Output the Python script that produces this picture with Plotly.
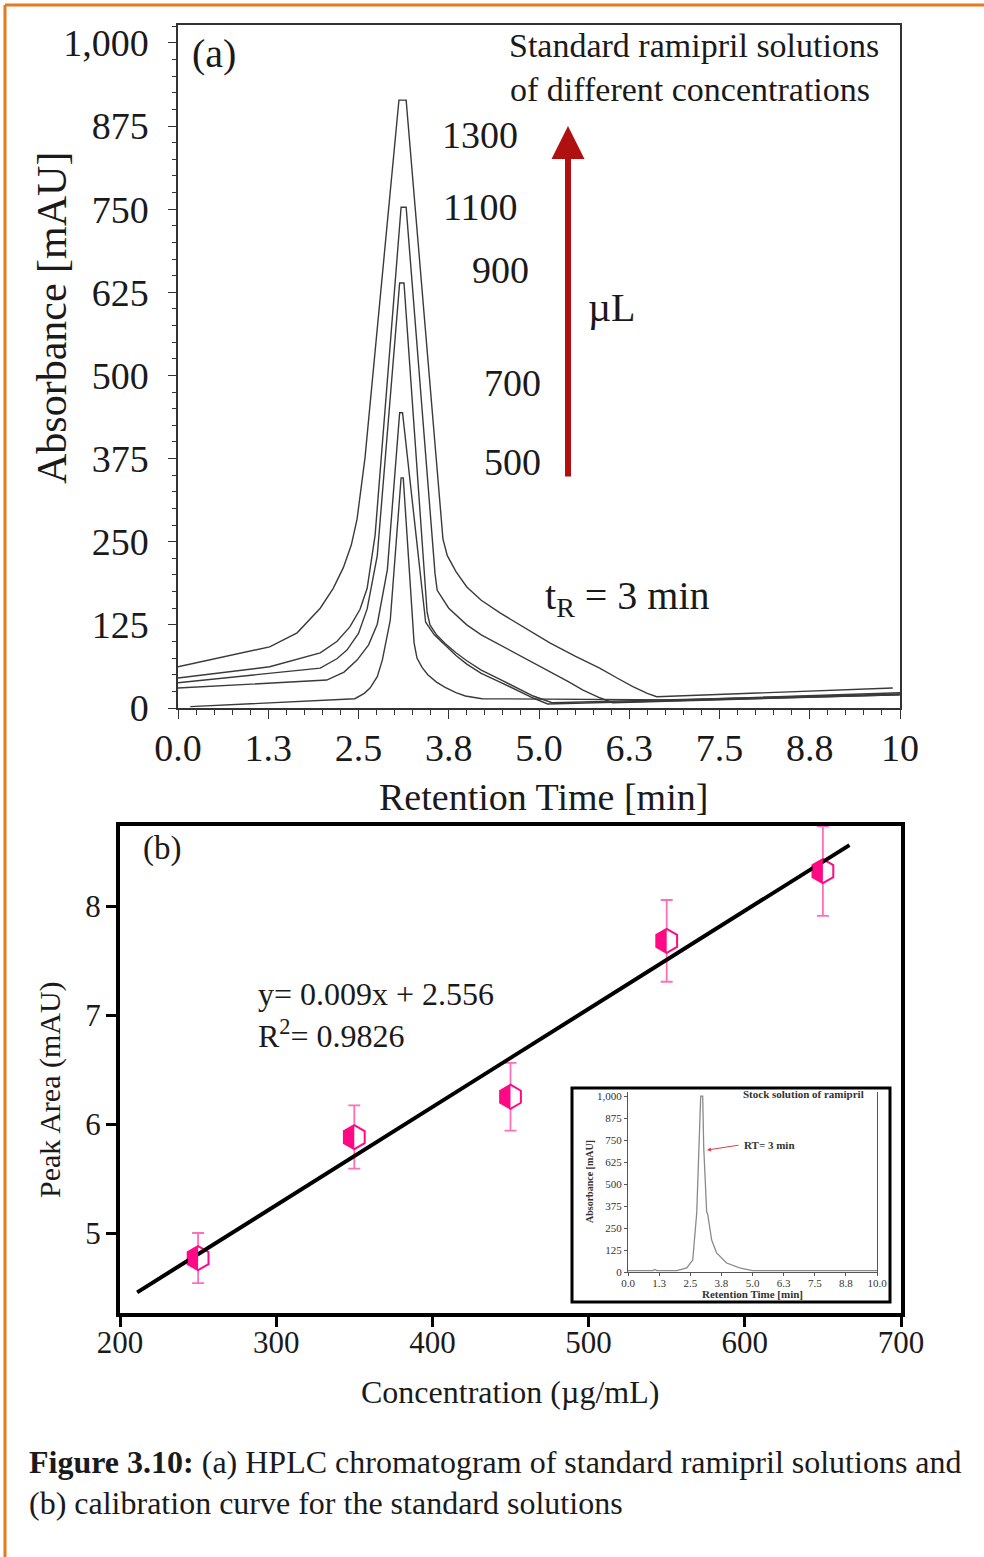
import plotly.graph_objects as go

W, H = 984, 1557
SERIF = "Liberation Serif"
INK = "#1a1a1a"

# ---- (a) chromatograms: retention time (min) vs absorbance (mAU) per injected volume (µL)
t_1300 = [0.0, 0.90, 1.27, 1.65, 1.97, 2.15, 2.29, 2.40, 2.48, 2.59, 3.06, 3.16, 3.67, 3.73,
          3.85, 4.00, 4.20, 4.46, 4.80, 5.15, 5.50, 5.84, 6.10, 6.30, 6.50, 6.63, 9.90]
a_1300 = [62, 83, 92, 113, 150, 180, 211, 245, 284, 376, 914, 914, 254, 229,
          205, 182, 162, 143, 121, 98, 78, 60, 44, 32, 22, 17, 30]

t_1100 = [0.0, 1.27, 1.97, 2.20, 2.38, 2.52, 2.62, 2.73, 3.09, 3.16, 3.56, 3.59, 3.75, 4.00,
          4.20, 4.46, 4.80, 5.15, 5.40, 5.61, 5.85, 6.02, 9.99]
a_1100 = [45, 62, 83, 100, 122, 148, 180, 260, 753, 753, 202, 177, 150, 125,
          110, 95, 75, 55, 40, 27, 15, 8, 20]

t_900 = [0.0, 1.97, 2.20, 2.34, 2.50, 2.62, 2.76, 3.07, 3.13, 3.45, 3.49, 3.58, 3.70, 3.85,
         4.00, 4.20, 4.46, 4.70, 4.92, 5.18, 10.0]
a_900 = [38, 60, 74, 87, 112, 149, 229, 639, 639, 144, 125, 110, 97, 83,
         71, 57, 43, 30, 18, 8, 21]

t_700 = [0.0, 2.06, 2.30, 2.48, 2.64, 2.76, 2.90, 3.07, 3.11, 3.40, 3.43, 3.55, 3.70, 3.85,
         4.00, 4.20, 4.46, 4.70, 4.92, 5.12, 10.0]
a_700 = [30, 42, 54, 72, 95, 126, 208, 444, 444, 156, 129, 110, 95, 79,
         66, 52, 39, 26, 15, 6, 20]

t_500 = [0.17, 2.45, 2.58, 2.66, 2.76, 2.83, 2.94, 3.09, 3.12, 3.27, 3.31, 3.38, 3.46, 3.58,
         3.70, 3.85, 3.98, 4.21, 6.95, 10.0]
a_500 = [2, 14, 22, 30, 47, 72, 132, 346, 346, 98, 75, 61, 50, 39,
         31, 23, 18, 14, 12, 23]

volume_labels = ["1300", "1100", "900", "700", "500"]

time_ticks = [0, 1.25, 2.5, 3.75, 5, 6.25, 7.5, 8.75, 10]
time_ticktext = ["0.0", "1.3", "2.5", "3.8", "5.0", "6.3", "7.5", "8.8", "10"]
abs_ticks = [0, 125, 250, 375, 500, 625, 750, 875, 1000]
abs_ticktext = ["0", "125", "250", "375", "500", "625", "750", "875", "1,000"]

# ---- (b) calibration: concentration (µg/mL) vs peak area (mAU)
conc = [250, 350, 450, 550, 650]
peak_area = [4.77, 5.88, 6.25, 7.68, 8.32]
area_err = [0.23, 0.29, 0.31, 0.375, 0.41]
slope, intercept, r_squared = 0.009, 2.556, 0.9826
fit_span = [211, 667]

# ---- inset: stock solution chromatogram
t_stock = [0.0, 1.0, 1.08, 1.16, 1.96, 2.36, 2.60, 2.76, 2.92, 3.00, 3.04, 3.16, 3.20, 3.36,
           3.56, 3.96, 4.48, 5.0, 10.0]
a_stock = [8, 8, 14, 8, 8, 23, 68, 335, 1000, 1000, 710, 341, 330, 182,
           108, 51, 23, 8, 8]
stock_ticktext = ["0.0", "1.3", "2.5", "3.8", "5.0", "6.3", "7.5", "8.8", "10.0"]


def px(x):
    return x / W


def py(y):
    return 1 - y / H


fig = go.Figure()

for t, a, name in zip([t_1300, t_1100, t_900, t_700, t_500],
                      [a_1300, a_1100, a_900, a_700, a_500], volume_labels):
    fig.add_trace(go.Scatter(x=t, y=a, mode="lines", name=name + " µL",
                             line=dict(color="#3a3a3a", width=1.4),
                             xaxis="x", yaxis="y", showlegend=False))

# calibration points with error bars (white interior, left half filled via shapes)
MAG = "#ff0a84"
fig.add_trace(go.Scatter(
    x=conc, y=peak_area, mode="markers", xaxis="x2", yaxis="y2", showlegend=False,
    marker=dict(symbol="hexagon", size=24, color="white", line=dict(color=MAG, width=2)),
    error_y=dict(type="data", array=area_err, visible=True, color="#ff6fb5",
                 thickness=1.8, width=6)))

fit_y = [slope * x + intercept for x in fit_span]
fig.add_trace(go.Scatter(x=fit_span, y=fit_y, mode="lines", xaxis="x2", yaxis="y2",
                         line=dict(color="black", width=4), showlegend=False))

fig.add_trace(go.Scatter(x=t_stock, y=a_stock, mode="lines", xaxis="x3", yaxis="y3",
                         line=dict(color="#8a8a8a", width=1.3), showlegend=False))

shapes = []
# left half of each hexagon marker, anchored on its data point
for xv, yv in zip(conc, peak_area):
    shapes.append(dict(type="path", xref="x2", yref="y2", xsizemode="pixel", ysizemode="pixel",
                       xanchor=xv, yanchor=yv, path="M0,12 L-10.4,6 L-10.4,-6 L0,-12 Z",
                       fillcolor=MAG, line=dict(width=0), layer="above"))

ORANGE = "#e8781c"
shapes += [
    dict(type="line", xref="paper", yref="paper", x0=px(5), x1=1, y0=py(5), y1=py(5),
         line=dict(color=ORANGE, width=3)),
    dict(type="line", xref="paper", yref="paper", x0=px(5), x1=px(5), y0=py(5), y1=0,
         line=dict(color=ORANGE, width=3)),
    # inset frame
    dict(type="rect", xref="paper", yref="paper", x0=px(572), x1=px(890), y0=py(1302), y1=py(1088),
         line=dict(color="black", width=3), fillcolor="rgba(0,0,0,0)"),
]

ann = []


def text(x, y, s, size, xanchor="center", yanchor="middle", angle=0, color=INK, family=SERIF):
    ann.append(dict(x=px(x), y=py(y), xref="paper", yref="paper", text=s, showarrow=False,
                    xanchor=xanchor, yanchor=yanchor, textangle=angle,
                    font=dict(family=family, size=size, color=color)))


# (a) texts
text(543, 797, "Retention Time [min]", 38)
text(52, 318, "Absorbance [mAU]", 42, angle=-90)
text(214, 53, "(a)", 40)
text(694, 45, "Standard ramipril solutions", 34)
text(690, 90, "of different concentrations", 34)
text(480, 135, "1300", 38)
text(480, 207, "1100", 38)
text(500, 270, "900", 38)
text(512, 383, "700", 38)
text(512, 462, "500", 38)
text(611, 308, "µL", 40)
text(627, 598, "t<sub>R</sub> = 3 min", 40)

ann.append(dict(x=px(568), y=py(126), xref="paper", yref="paper", text="", showarrow=True,
                ax=0, ay=352, axref="pixel", ayref="pixel", arrowhead=2, arrowsize=1.1,
                arrowwidth=6, arrowcolor="#b01010", standoff=0))

# (b) texts
text(510, 1392, "Concentration (µg/mL)", 32)
text(50, 1090, "Peak Area (mAU)", 30, angle=-90)
text(162, 848, "(b)", 33)
text(256, 994, "y= 0.009x + 2.556", 32, xanchor="left")
text(256, 1034, "R<sup>2</sup>= 0.9826", 32, xanchor="left")

# inset texts
text(803, 1094, "<b>Stock solution of ramipril</b>", 11, color="#333")
text(742, 1145, "<b>RT= 3 min</b>", 11, xanchor="left", color="#333")
text(752, 1294, "<b>Retention Time [min]</b>", 11, color="#333")
text(589, 1182, "<b>Absorbance [mAU]</b>", 10, angle=-90, color="#333")
ann.append(dict(x=px(707), y=py(1150), xref="paper", yref="paper", text="", showarrow=True,
                ax=33, ay=-5, arrowhead=2, arrowsize=0.8, arrowwidth=1, arrowcolor="#e04040",
                standoff=0))

# caption
text(27, 1462, "<b>Figure 3.10:</b> (a) HPLC chromatogram of standard ramipril solutions and", 32,
     xanchor="left")
text(27, 1503, "(b) calibration curve for the standard solutions", 32, xanchor="left")

axis_a = dict(showgrid=False, zeroline=False, mirror=True, linecolor="#333", linewidth=1.5,
              ticks="outside", tickcolor="#333", tickwidth=1.3, automargin=False,
              tickfont=dict(family=SERIF, size=38, color=INK))

fig.update_layout(
    width=W, height=H, autosize=False,
    margin=dict(l=0, r=0, t=0, b=0, pad=0),
    paper_bgcolor="white", plot_bgcolor="white",
    xaxis=dict(axis_a, domain=[px(178), px(900)], range=[0, 10], anchor="y",
               tickmode="array", tickvals=time_ticks, ticktext=time_ticktext, ticklen=9,
               ticklabelstandoff=-3,
               minor=dict(tickmode="linear", tick0=0, dtick=0.25, ticks="outside", ticklen=5,
                          tickcolor="#333")),
    yaxis=dict(axis_a, domain=[py(708), py(25)], range=[0, 1027], anchor="x",
               tickmode="array", tickvals=abs_ticks, ticktext=abs_ticktext, ticklen=8,
               ticklabelstandoff=12,
               minor=dict(tickmode="linear", tick0=0, dtick=25, ticks="outside", ticklen=4,
                          tickcolor="#333")),
    xaxis2=dict(domain=[px(120), px(901)], range=[200, 700], anchor="y2", automargin=False,
                showgrid=False, zeroline=False, mirror=True, linecolor="black", linewidth=4,
                ticks="outside", ticklen=10, tickwidth=3, tickcolor="black",
                tickmode="linear", tick0=200, dtick=100, ticklabelstandoff=-11,
                tickfont=dict(family=SERIF, size=31, color=INK)),
    yaxis2=dict(domain=[py(1313), py(826)], range=[4.266, 8.734], anchor="x2", automargin=False,
                showgrid=False, zeroline=False, mirror=True, linecolor="black", linewidth=4,
                ticks="outside", ticklen=10, tickwidth=3, tickcolor="black",
                tickmode="array", tickvals=[5, 6, 7, 8], ticklabelstandoff=-1,
                tickfont=dict(family=SERIF, size=31, color=INK)),
    xaxis3=dict(domain=[px(628), px(877)], range=[0, 10], anchor="y3", automargin=False,
                showgrid=False, zeroline=False, linecolor="#555", linewidth=1, mirror=False,
                ticks="outside", ticklen=3, tickcolor="#555",
                tickmode="array", tickvals=time_ticks, ticktext=stock_ticktext,
                ticklabelstandoff=-2,
                tickfont=dict(family=SERIF, size=11, color="#333")),
    yaxis3=dict(domain=[py(1272), py(1092)], range=[0, 1023], anchor="x3", automargin=False,
                showgrid=False, zeroline=False, linecolor="#555", linewidth=1, mirror=True,
                ticks="outside", ticklen=3, tickcolor="#555",
                tickmode="array", tickvals=abs_ticks, ticktext=abs_ticktext,
                ticklabelstandoff=0,
                tickfont=dict(family=SERIF, size=11, color="#333")),
    shapes=shapes,
    annotations=ann,
)

fig.write_html("out.html")
